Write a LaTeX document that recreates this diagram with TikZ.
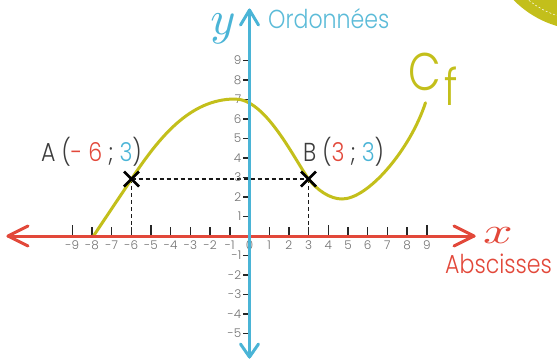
\documentclass[tikz,border=0pt]{standalone}
\usepackage{fontspec}
\usetikzlibrary{calc}
\setmainfont{Poppins Light}
\definecolor{axred}{HTML}{E2483A}
\definecolor{axblue}{HTML}{4AB4D6}
\definecolor{txtblue}{HTML}{5BBBD8}
\definecolor{curv}{HTML}{C3BF1B}
\definecolor{lblgray}{HTML}{707070}
\definecolor{txtgray}{HTML}{3C3C3C}
\tikzset{
  xaxisline/.style={axred, line width=3pt, line cap=round, line join=round},
  yaxisline/.style={axblue, line width=3pt, line cap=round, line join=round},
  tickmark/.style={black!85, line width=1.4pt},
  ticklbl/.style={text=lblgray, inner sep=0pt, font=\fontsize{12}{12}\selectfont},
  guide/.style={black!90, line width=1.2pt, dash pattern=on 4pt off 3pt},
  crossmark/.style={black, line width=2.8pt},
  bigtxt/.style={inner sep=0pt, font=\fontsize{26}{26}\selectfont},
  curvestyle/.style={curv, line width=3pt, line cap=round}
}
\begin{document}
\begin{tikzpicture}[x=1pt,y=-1pt]
\useasboundingbox (0,0) rectangle (557,360);
% corner blob
\begin{scope}
\clip (0,0) rectangle (557,360);
\fill[curv] (585,-70) circle (100);
\draw[white, line width=0.5pt, dash pattern=on 2pt off 2pt] (585,-70) circle (90);
\end{scope}
% key coordinates
\coordinate (O) at (249.5,236);
\coordinate (xl) at (8,236);
\coordinate (xr) at (474,236);
\coordinate (yt) at (249.5,10);
\coordinate (yb) at (249.5,357);
\coordinate (A) at (131.5,179);
\coordinate (B) at (308.5,179);
\coordinate (Ax) at (131.5,236);
\coordinate (Bx) at (308.5,236);
\coordinate (c0) at (93.5,236);
\coordinate (cpk) at (235,99);
\coordinate (cvl) at (342,199);
\coordinate (cend) at (425.5,102.7);
% dashed guides
\draw[guide] (A) -- (B);
\draw[guide] (A) -- (Ax);
\draw[guide] (B) -- (Bx);
% x ticks and labels
\foreach \i in {-9,...,9}{
  \pgfmathsetmacro\px{249.5+19.7*\i}
  \ifnum\i=0\relax\else
    \draw[tickmark] (\px,236) -- (\px,227);
  \fi
  \node[ticklbl] (xt\i) at (\px,245.5) {\i};
}
\foreach \i in {-9,-5,4,9}{
  \pgfmathsetmacro\px{249.5+19.7*\i}
  \draw[tickmark] (\px,236) -- (\px,225);
}
% y ticks and labels
\foreach \j in {-5,...,-1,1,2,...,9}{
  \pgfmathsetmacro\py{236-19.5*\j}
  \draw[tickmark, line width=1.8pt] (243,\py) -- (249.5,\py);
  \node[ticklbl, anchor=east] (yt\j) at (241.5,\py) {\j};
}
% curve
\draw[curvestyle] (c0) .. controls (106,217) and (119,198) .. (A)
  .. controls (159,137.5) and (190,99) .. (cpk)
  .. controls (265,99) and (292,155) .. (B)
  .. controls (317,190) and (330,199) .. (cvl)
  .. controls (368,199) and (410,150) .. (cend);
% axes
\draw[xaxisline] (xl) -- (xr);
\draw[xaxisline] ($(xl)+(20,-10)$) -- (xl) -- ($(xl)+(20,10)$);
\draw[xaxisline] ($(xr)+(-20,-10)$) -- (xr) -- ($(xr)+(-20,10)$);
\draw[yaxisline] (yb) -- (yt);
\draw[yaxisline] ($(yt)+(-9,15)$) -- (yt) -- ($(yt)+(9,15)$);
\draw[yaxisline] ($(yb)+(-9,-13)$) -- (yb) -- ($(yb)+(9,-13)$);
% crosses
\draw[crossmark] ($(A)+(-7.5,-7.5)$) -- ($(A)+(7.5,7.5)$);
\draw[crossmark] ($(A)+(-7.5,7.5)$) -- ($(A)+(7.5,-7.5)$);
\draw[crossmark] ($(B)+(-7.5,-7.5)$) -- ($(B)+(7.5,7.5)$);
\draw[crossmark] ($(B)+(-7.5,7.5)$) -- ($(B)+(7.5,-7.5)$);
% texts
\node[bigtxt, anchor=base west, text=txtgray] (labA) at (41,161)
  {\scalebox{0.85}[1]{A (\textcolor{axred}{- 6} ; \textcolor{axblue}{3})}};
\node[bigtxt, anchor=base west, text=txtgray] (labB) at (303,161)
  {\scalebox{0.85}[1]{B (\textcolor{axred}{3} ; \textcolor{axblue}{3})}};
\node[bigtxt, anchor=base west, text=txtblue] (ord) at (268,28)
  {\scalebox{0.85}[1]{Ordonnées}};
\node[bigtxt, anchor=base west, text=axred] (abs) at (445,273)
  {\scalebox{0.85}[1]{Abscisses}};
\node[inner sep=0pt, anchor=base, text=axblue] (ylet) at (223,34) {\scalebox{4.8}{$y$}};
\node[inner sep=0pt, anchor=base, text=axred] (xlet) at (498,243) {\scalebox{5.2}[3.7]{$x$}};
\node[inner sep=0pt, anchor=base west, text=curv, font=\fontsize{53}{53}\selectfont] (cC) at (408,90) {\scalebox{0.8}[1]{C}};
\node[inner sep=0pt, anchor=base west, text=curv, font=\fontsize{51}{51}\selectfont] (cf) at (444,105) {\scalebox{0.8}[1]{f}};
\end{tikzpicture}
\end{document}
